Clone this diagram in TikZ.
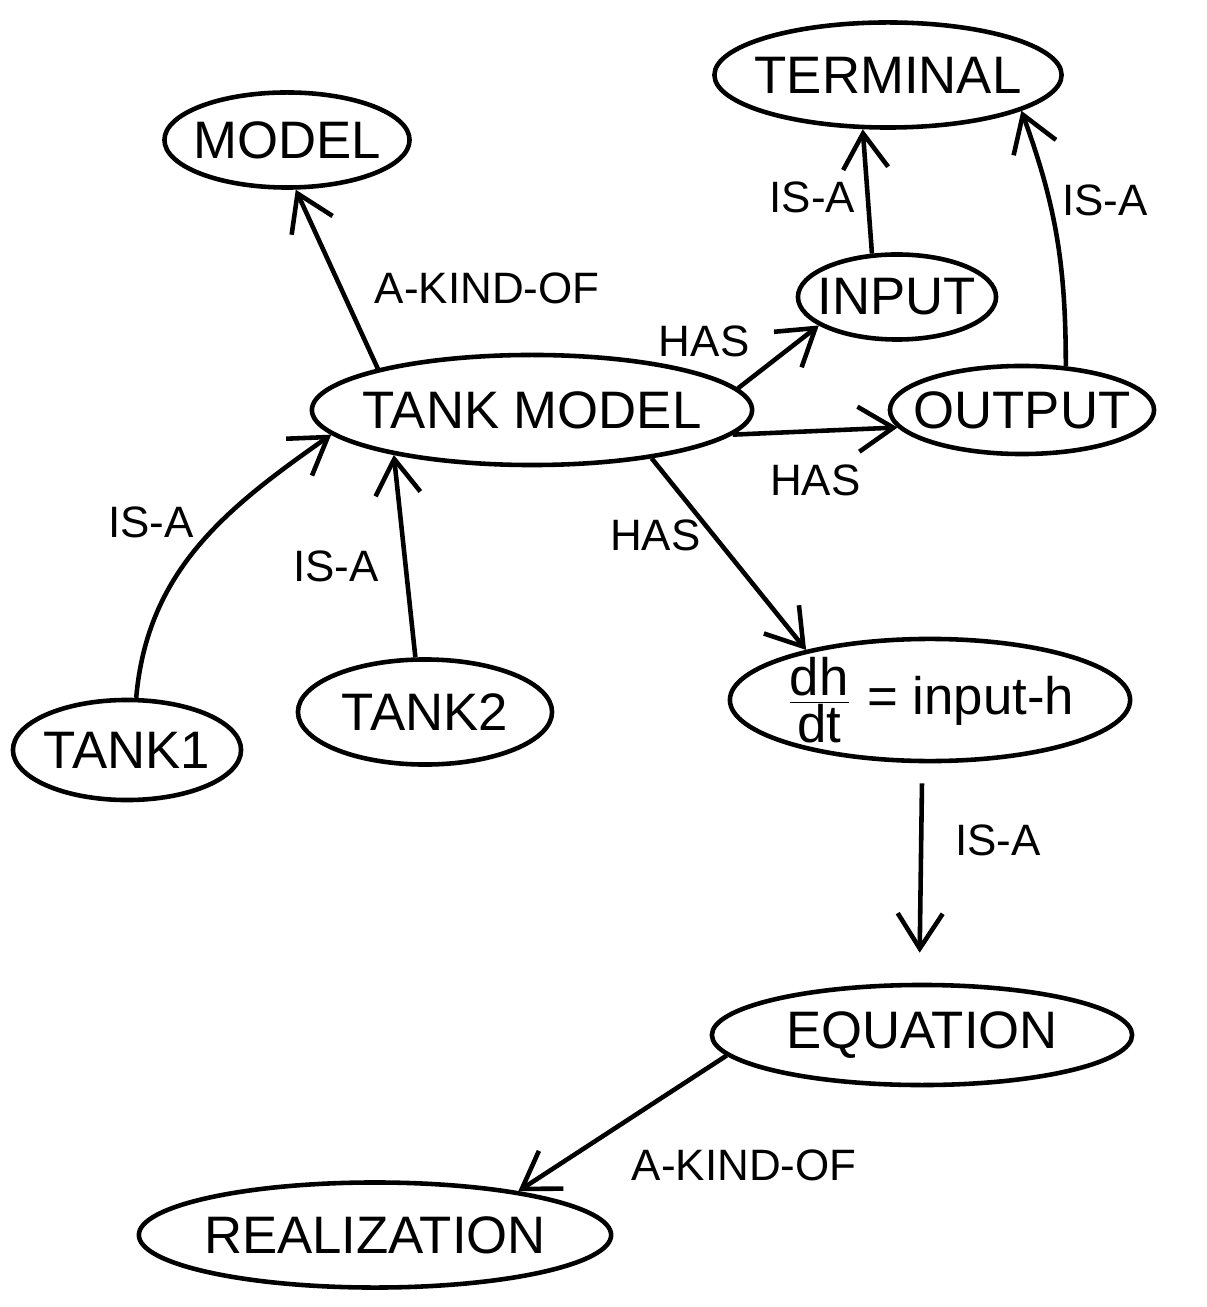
\documentclass[tikz,border=0pt]{standalone}
\usepackage{fontspec}
\setmainfont{Liberation Sans}
\usetikzlibrary{shapes.geometric,arrows.meta}

\begin{document}
\begin{tikzpicture}
  [x=0.01cm,y=-0.01cm,line width=1.3pt,
   concept/.style={ellipse,draw,inner xsep=-6pt,inner ysep=0pt,font=\fontsize{15}{17}\selectfont},
   lbl/.style={font=\fontsize{12.5}{14}\selectfont,inner sep=3pt},
   link/.style={-{Straight Barb[length=3.5mm,width=4.5mm]}}]
  \useasboundingbox (0,0) rectangle (1206,1307);

  \node (model)[concept,minimum width=2.45cm,minimum height=0.95cm] at (287,140) {MODEL};
  \node (terminal)[concept,minimum width=3.47cm,minimum height=1.05cm] at (888,75) {TERMINAL};
  \node (input)[concept,minimum width=1.98cm,minimum height=0.85cm] at (897,297) {INPUT};
  \node (tankmodel)[concept,minimum width=4.4cm,minimum height=1.1cm] at (532,410) {TANK MODEL};
  \node (output)[concept,minimum width=2.64cm,minimum height=0.88cm] at (1022,410) {OUTPUT};
  \node (tank1)[concept,minimum width=2.28cm,minimum height=1cm] at (127,750) {TANK1};
  \node (tank2)[concept,minimum width=2.54cm,minimum height=1.05cm] at (425,712) {TANK2};
  \node (eq)[concept,minimum width=4cm,minimum height=1.2cm] at (930,700) {\(\frac{\mbox{dh}}{\mbox{dt}}\) = input-h};
  \node (equation)[concept,minimum width=4.2cm,minimum height=1cm] at (922,1035) {EQUATION};
  \node (realization)[concept,minimum width=4.72cm,minimum height=1.05cm] at (375,1235) {REALIZATION};

  \draw[link] (tankmodel.165) -- node[lbl,right=6pt,pos=.45] {A-KIND-OF} (model.-80);
  \draw[link] (input.120) -- node[lbl,left,pos=.45] {IS-A} (terminal.-115);
  \draw[link] (output.45) to[out=90,in=-70] node[lbl,right,pos=.65] {IS-A} (terminal.-15);
  \draw[link] (tankmodel.6) -- node[lbl,above left,pos=.3] {HAS} (input.-160);
  \draw[link] (tankmodel.-7) -- node[lbl,below=6pt,pos=.5] {HAS} (output.188);
  \draw[link] (tankmodel.-22) -- node[lbl,left,pos=.4] {HAS} (eq.158);
  \draw[link] (tank1.80) to[out=85,in=-145] node[lbl,left=4pt,pos=.6] {IS-A} (tankmodel.187);
  \draw[link] (tank2.100) -- node[lbl,left=4pt,pos=.45] {IS-A} (tankmodel.-162);
  \draw[link,shorten >=3mm,shorten <=2mm] (eq.-97) -- node[lbl,right=6pt,pos=.35] {IS-A} (equation.93);
  \draw[link] (equation.186) -- node[lbl,below right=2pt,pos=.55] {A-KIND-OF} (realization.17);

\end{tikzpicture}
\end{document}
